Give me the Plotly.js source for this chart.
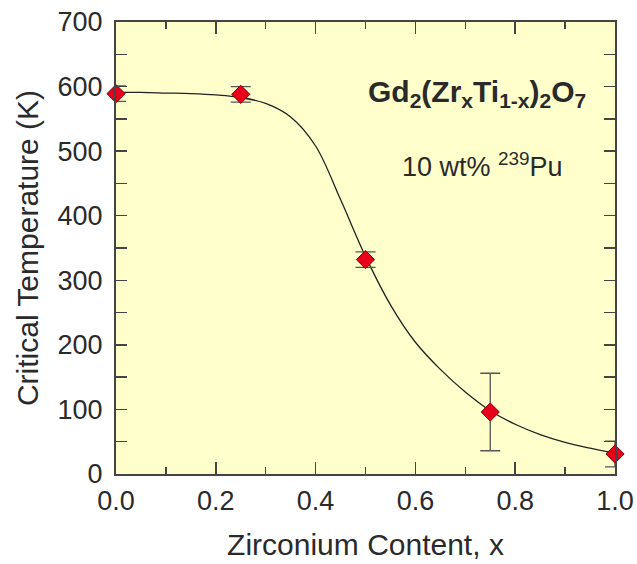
<!DOCTYPE html>
<html><head><meta charset="utf-8">
<script src="https://cdn.plot.ly/plotly-3.0.1.min.js"></script>
<style>html,body{margin:0;padding:0;background:#fff;}#chart{width:637px;height:564px;}</style>
</head><body><div id="chart"></div>
<script>
// Measured data
const zrContent = [0.0, 0.25, 0.5, 0.75, 1.0];
const criticalTemp = [589, 588, 332, 96, 31];
const tempError = [12, 12, 12, 60, 20];

// Fitted curve
const fitX = [0.0, 0.05, 0.1, 0.15, 0.2, 0.25, 0.3, 0.35, 0.4, 0.45, 0.5, 0.55, 0.6, 0.65, 0.7, 0.75, 0.8, 0.85, 0.9, 0.95, 1.0];
const fitY = [591, 591, 590, 589, 587, 583, 574, 553, 508, 425, 337, 262, 204, 162, 127, 98, 77, 61, 49, 40, 32];

const xTickVals = [0, 0.2, 0.4, 0.6, 0.8, 1.0];
const xTickText = ['0.0', '0.2', '0.4', '0.6', '0.8', '1.0'];
const yTickVals = [0, 100, 200, 300, 400, 500, 600, 700];

const font = 'Liberation Sans, Arial, sans-serif';
const axisCol = '#444';
const textCol = '#2a2a2a';

const traces = [
  {x: fitX, y: fitY, mode: 'lines', line: {color: '#222', width: 1.3, shape: 'spline', smoothing: 1}, hoverinfo: 'skip'},
  {x: zrContent, y: criticalTemp, mode: 'markers',
   error_y: {type: 'data', array: tempError, visible: true, color: '#555', thickness: 1.3, width: 10},
   marker: {symbol: 'diamond', size: 14, color: '#e8001a', line: {color: '#7a0010', width: 1}}, cliponaxis: false}
];

const common = {showline: true, linecolor: axisCol, linewidth: 2, mirror: 'allticks', ticks: 'inside',
  tickcolor: axisCol, tickwidth: 1.5, zeroline: false, showgrid: false,
  tickfont: {family: font, size: 27, color: textCol}};

const layout = {
  width: 637, height: 564,
  margin: {l: 116, r: 22, t: 22, b: 90},
  paper_bgcolor: '#ffffff', plot_bgcolor: '#ffffcc',
  showlegend: false,
  xaxis: Object.assign({}, common, {range: [0, 1], tickvals: xTickVals, ticktext: xTickText, ticklen: 12,
    ticklabelstandoff: 2,
    minor: {dtick: 0.1, ticks: 'inside', ticklen: 7, tickcolor: axisCol, tickwidth: 1.5},
    title: {text: 'Zirconium Content, x', font: {family: font, size: 30, color: textCol}, standoff: 19}}),
  yaxis: Object.assign({}, common, {range: [0, 700], tickvals: yTickVals, ticklen: 11,
    ticklabelstandoff: 6,
    minor: {dtick: 50, ticks: 'inside', ticklen: 11, tickcolor: axisCol, tickwidth: 1.5},
    title: {text: 'Critical Temperature (K)', font: {family: font, size: 30, color: textCol}, standoff: 10}}),
  annotations: [
    {x: 0.945, y: 590, xref: 'x', yref: 'y', xanchor: 'right', yanchor: 'middle', showarrow: false,
     text: '<b>Gd<sub>2</sub>(Zr<sub>x</sub>Ti<sub>1-x</sub>)<sub>2</sub>O<sub>7</sub></b>',
     font: {family: font, size: 30, color: textCol}},
    {x: 0.9, y: 478, xref: 'x', yref: 'y', xanchor: 'right', yanchor: 'middle', showarrow: false,
     text: '10 wt% <sup>239</sup>Pu', font: {family: font, size: 27, color: textCol}}
  ]
};

Plotly.newPlot('chart', traces, layout, {displayModeBar: false, staticPlot: true});
</script></body></html>
